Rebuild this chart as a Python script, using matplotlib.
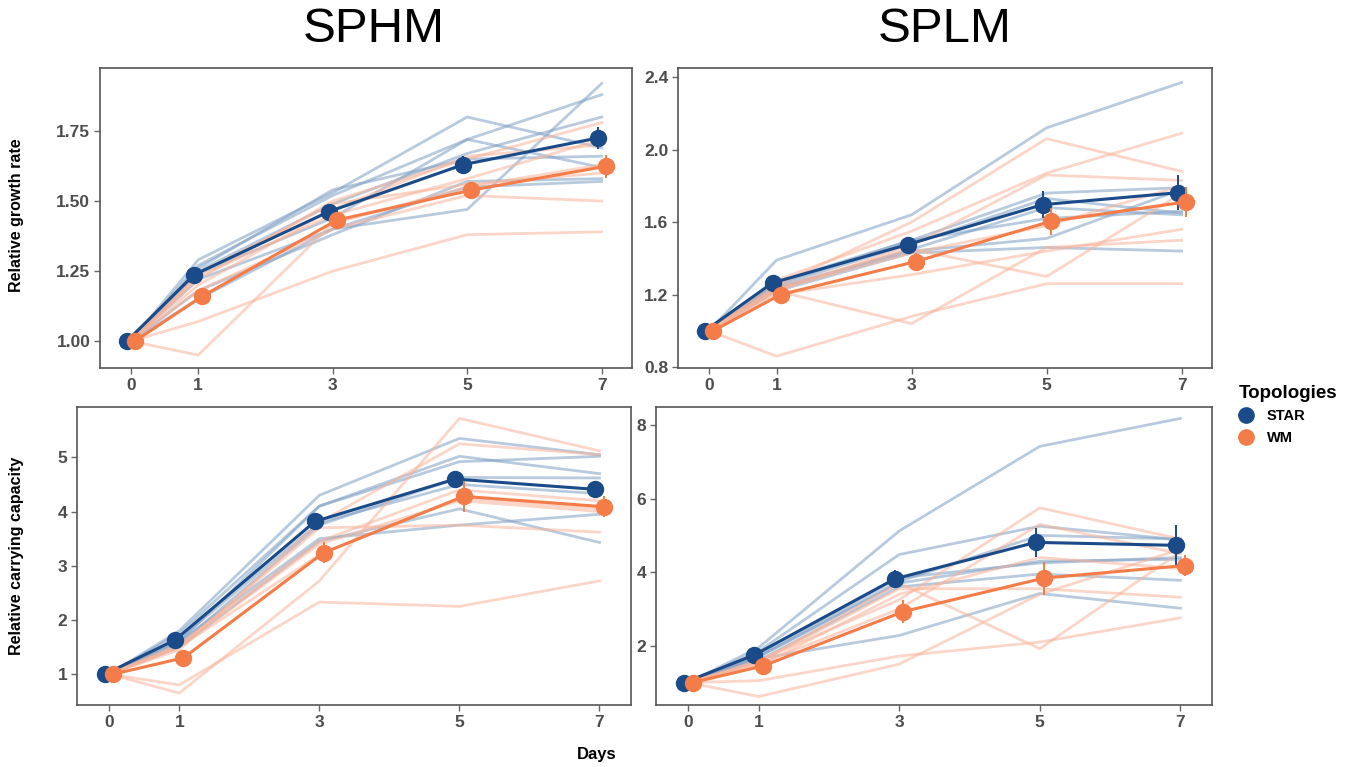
import matplotlib
matplotlib.use("Agg")
import matplotlib.pyplot as plt
from matplotlib.lines import Line2D

plt.rcParams['font.family'] = ['Liberation Sans', 'DejaVu Sans']

days = [0, 1, 3, 5, 7]
tick_labels = ['0', '1', '3', '5', '7']

# --- SPHM, relative growth rate ---
tl_star_lines = [
    [1.0, 1.29, 1.53, 1.80, 1.69],
    [1.0, 1.27, 1.52, 1.72, 1.88],
    [1.0, 1.25, 1.49, 1.67, 1.80],
    [1.0, 1.22, 1.40, 1.47, 1.92],
    [1.0, 1.18, 1.38, 1.57, 1.58],
    [1.0, 1.15, 1.40, 1.55, 1.57],
    [1.0, 1.24, 1.44, 1.72, 1.62],
    [1.0, 1.26, 1.54, 1.65, 1.66],
]
tl_wm_lines = [
    [1.0, 0.95, 1.42, 1.55, 1.63],
    [1.0, 1.07, 1.25, 1.38, 1.39],
    [1.0, 1.18, 1.40, 1.52, 1.50],
    [1.0, 1.22, 1.50, 1.65, 1.78],
    [1.0, 1.20, 1.47, 1.66, 1.70],
    [1.0, 1.24, 1.49, 1.56, 1.60],
    [1.0, 1.23, 1.45, 1.58, 1.72],
]
tl_star_mean = [1.0, 1.237, 1.462, 1.630, 1.725]
tl_star_err = [0.005, 0.02, 0.02, 0.03, 0.04]
tl_wm_mean = [1.0, 1.160, 1.432, 1.539, 1.624]
tl_wm_err = [0.005, 0.025, 0.02, 0.02, 0.04]

# --- SPLM, relative growth rate ---
tr_star_lines = [
    [1.0, 1.39, 1.64, 2.12, 2.37],
    [1.0, 1.27, 1.50, 1.76, 1.79],
    [1.0, 1.24, 1.44, 1.51, 1.78],
    [1.0, 1.25, 1.48, 1.73, 1.65],
    [1.0, 1.22, 1.43, 1.46, 1.44],
    [1.0, 1.23, 1.45, 1.68, 1.64],
    [1.0, 1.26, 1.50, 1.62, 1.66],
]
tr_wm_lines = [
    [1.0, 0.86, 1.08, 1.26, 1.26],
    [1.0, 1.22, 1.04, 1.46, 1.50],
    [1.0, 1.25, 1.60, 2.06, 1.88],
    [1.0, 1.28, 1.55, 1.87, 2.09],
    [1.0, 1.20, 1.31, 1.44, 1.56],
    [1.0, 1.24, 1.45, 1.30, 1.76],
    [1.0, 1.22, 1.47, 1.86, 1.83],
    [1.0, 1.23, 1.43, 1.58, 1.80],
]
tr_star_mean = [1.0, 1.265, 1.476, 1.696, 1.762]
tr_star_err = [0.005, 0.02, 0.02, 0.075, 0.095]
tr_wm_mean = [1.0, 1.200, 1.382, 1.604, 1.711]
tr_wm_err = [0.005, 0.025, 0.045, 0.075, 0.085]

# --- SPHM, relative carrying capacity ---
bl_star_lines = [
    [1.0, 1.80, 4.30, 5.35, 5.05],
    [1.0, 1.75, 4.10, 5.02, 4.70],
    [1.0, 1.60, 4.10, 4.92, 5.02],
    [1.0, 1.55, 3.75, 4.63, 4.62],
    [1.0, 1.50, 3.45, 4.05, 3.43],
    [1.0, 1.60, 3.50, 3.75, 3.95],
    [1.0, 1.65, 3.80, 4.50, 4.33],
]
bl_wm_lines = [
    [1.0, 0.65, 2.72, 5.72, 5.12],
    [1.0, 0.80, 2.33, 2.25, 2.72],
    [1.0, 1.45, 3.80, 5.25, 5.05],
    [1.0, 1.50, 3.40, 4.20, 4.00],
    [1.0, 1.50, 3.70, 3.75, 3.62],
    [1.0, 1.55, 3.45, 4.40, 4.20],
    [1.0, 1.50, 3.20, 4.25, 4.05],
]
bl_star_mean = [1.0, 1.63, 3.82, 4.60, 4.41]
bl_star_err = [0.01, 0.07, 0.12, 0.11, 0.13]
bl_wm_mean = [1.0, 1.30, 3.24, 4.28, 4.09]
bl_wm_err = [0.01, 0.08, 0.19, 0.28, 0.19]

# --- SPLM, relative carrying capacity ---
br_star_lines = [
    [1.0, 1.95, 5.12, 7.42, 8.18],
    [1.0, 1.85, 4.48, 5.25, 4.88],
    [1.0, 1.70, 3.75, 5.00, 4.90],
    [1.0, 1.75, 3.85, 4.25, 4.40],
    [1.0, 1.65, 2.28, 3.42, 3.02],
    [1.0, 1.60, 3.60, 3.95, 3.78],
    [1.0, 1.70, 3.70, 4.30, 4.35],
]
br_wm_lines = [
    [1.0, 0.62, 1.50, 3.40, 4.62],
    [1.0, 1.05, 1.72, 2.10, 2.76],
    [1.0, 1.55, 3.70, 1.92, 4.55],
    [1.0, 1.60, 3.25, 5.75, 4.90],
    [1.0, 1.55, 3.55, 3.55, 3.32],
    [1.0, 1.50, 3.00, 5.30, 4.50],
    [1.0, 1.45, 3.40, 4.40, 4.10],
]
br_star_mean = [1.0, 1.75, 3.82, 4.81, 4.73]
br_star_err = [0.02, 0.10, 0.25, 0.40, 0.55]
br_wm_mean = [1.0, 1.45, 2.93, 3.84, 4.18]
br_wm_err = [0.02, 0.10, 0.32, 0.45, 0.28]

star_col = '#1A4B88'
wm_col = '#F47C48'
star_light = '#7E9FC4'
wm_light = '#F9B49A'
tick_col = '#4D4D4D'

W, H = 1355, 767
fig = plt.figure(figsize=(W / 100, H / 100), dpi=100)


def box(x0, x1, y0, y1):
    return [x0 / W, 1 - y1 / H, (x1 - x0) / W, (y1 - y0) / H]


def panel(rect, star_lines, wm_lines, star_mean, star_err, wm_mean, wm_err, ylim, yticks, ylabels):
    ax = fig.add_axes(rect)
    for ln in star_lines:
        ax.plot(days, ln, color=star_light, lw=2.0, alpha=0.55, zorder=1)
    for ln in wm_lines:
        ax.plot(days, ln, color=wm_light, lw=2.0, alpha=0.55, zorder=1)
    # mean points are dodged a little, as in the original
    xs = [d - 0.06 for d in days]
    xw = [d + 0.06 for d in days]
    ax.errorbar(xs, star_mean, yerr=star_err, color=star_col, lw=2.2, elinewidth=1.4,
                marker='o', ms=11.5, capsize=0, zorder=3)
    ax.errorbar(xw, wm_mean, yerr=wm_err, color=wm_col, lw=2.2, elinewidth=1.4,
                marker='o', ms=11.5, capsize=0, zorder=4)
    ax.set_xlim(-0.46, 7.45)
    ax.set_ylim(*ylim)
    ax.set_xticks(days)
    ax.set_xticklabels(tick_labels)
    ax.set_yticks(yticks)
    ax.set_yticklabels(ylabels)
    for s in ax.spines.values():
        s.set_color('#555555')
        s.set_linewidth(1.2)
    ax.tick_params(direction='out', length=4, width=1, color='#666666',
                   labelcolor=tick_col, labelsize=12.5, pad=3)
    for lab in ax.get_xticklabels() + ax.get_yticklabels():
        lab.set_fontweight('bold')
    return ax


ax_tl = panel(box(100, 632, 68, 368), tl_star_lines, tl_wm_lines, tl_star_mean, tl_star_err,
              tl_wm_mean, tl_wm_err, (0.904, 1.975), [1.0, 1.25, 1.5, 1.75],
              ['1.00', '1.25', '1.50', '1.75'])
ax_tr = panel(box(678, 1212, 68, 368), tr_star_lines, tr_wm_lines, tr_star_mean, tr_star_err,
              tr_wm_mean, tr_wm_err, (0.795, 2.45), [0.8, 1.2, 1.6, 2.0, 2.4],
              ['0.8', '1.2', '1.6', '2.0', '2.4'])
ax_bl = panel(box(77, 631, 407, 705), bl_star_lines, bl_wm_lines, bl_star_mean, bl_star_err,
              bl_wm_mean, bl_wm_err, (0.43, 5.93), [1, 2, 3, 4, 5],
              ['1', '2', '3', '4', '5'])
ax_br = panel(box(656, 1212, 407, 705), br_star_lines, br_wm_lines, br_star_mean, br_star_err,
              br_wm_mean, br_wm_err, (0.39, 8.49), [2, 4, 6, 8],
              ['2', '4', '6', '8'])

fig.text(374 / W, 1 - 30 / H, 'SPHM', fontsize=35.5, ha='center', va='center')
fig.text(945 / W, 1 - 30 / H, 'SPLM', fontsize=35.5, ha='center', va='center')
fig.text(17 / W, 1 - 215 / H, 'Relative growth rate', rotation=90, fontsize=11.5,
         fontweight='bold', ha='center', va='center')
fig.text(17 / W, 1 - 556 / H, 'Relative carrying capacity', rotation=90, fontsize=11.5,
         fontweight='bold', ha='center', va='center')
fig.text(597 / W, 1 - 755 / H, 'Days', fontsize=12, fontweight='bold', ha='center', va='center')

handles = [Line2D([0], [0], color=star_col, marker='o', ms=11, lw=1.4, label='STAR'),
           Line2D([0], [0], color=wm_col, marker='o', ms=11, lw=1.4, label='WM')]
leg = fig.legend(handles=handles, title='Topologies', loc='upper left',
                 bbox_to_anchor=(1226 / W, 1 - 372 / H), frameon=False,
                 prop={'weight': 'bold', 'size': 10.5}, handlelength=0.9,
                 handletextpad=1.0, labelspacing=0.5)
leg.get_title().set_fontweight('bold')
leg.get_title().set_fontsize(13.5)
leg._legend_box.align = 'left'

fig.savefig('out.png', dpi=100, facecolor='white')
